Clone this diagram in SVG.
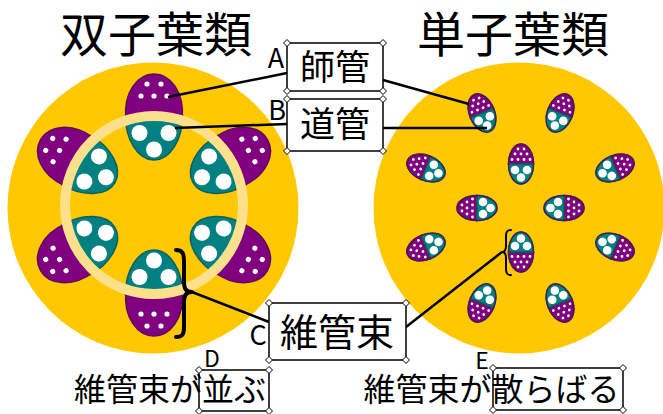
<svg xmlns="http://www.w3.org/2000/svg" xmlns:xlink="http://www.w3.org/1999/xlink" width="663" height="414" viewBox="0 0 663 414">
  <style>
    text { font-family: "Noto Sans CJK JP", "Noto Sans", sans-serif; fill: #000; }
    .title { font-size: 48px; text-anchor: middle; }
    .lbl { font-size: 35px; text-anchor: middle; }
    .cap { font-size: 32px; text-anchor: middle; }
    .key { font-size: 27px; text-anchor: middle; }
    .key.small { font-size: 23px; }
    .stem { fill: #FFC800; }
    .ring { fill: none; stroke: #FDE08C; stroke-width: 10; }
    .phloem { fill: #800080; stroke: #5E0A63; stroke-width: 1.5; }
    .xylem { fill: #008080; stroke: #0B5F5F; stroke-width: 1.5; }
    .hole { fill: #fff; }
    .box { fill: #fff; stroke: #000; stroke-width: 1.5; }
    .frame { fill: none; stroke: #000; stroke-width: 1.5; }
    .handle { fill: #fff; stroke: #000; stroke-width: 1; }
    .link { fill: none; stroke: #000; stroke-width: 2.5; }
    .brace { fill: none; stroke: #000; stroke-linecap: round; stroke-linejoin: round; }
  </style>
  <defs>
    <!-- dicot bundle, local origin at the stem centre, outward = -y -->
    <g id="dicotBundle">
      <path class="xylem" d="M -28.5,-90 C -29,-66 -16,-45 0,-45 C 16,-45 29,-66 28.5,-90 Z"/>
      <circle class="hole" cx="-14.5" cy="-72" r="8"/>
      <circle class="hole" cx="14.5" cy="-72" r="8"/>
      <circle class="hole" cx="0" cy="-55.5" r="8"/>
      <path class="phloem" d="M -28,-86 C -31,-113 -16,-131 0,-131 C 16,-131 31,-113 28,-86 Z"/>
      <circle class="hole" cx="-7" cy="-121" r="2.6"/>
      <circle class="hole" cx="7" cy="-121" r="2.6"/>
      <circle class="hole" cx="-13" cy="-109" r="2.6"/>
      <circle class="hole" cx="0" cy="-109" r="2.6"/>
      <circle class="hole" cx="13" cy="-109" r="2.6"/>
    </g>
    <!-- monocot bundle, centred on its own origin, phloem towards -y -->
    <g id="monoBundle">
      <path class="phloem" d="M -12.5,0 A 12.5,20 0 0 1 12.5,0 Z"/>
      <path class="xylem" d="M -12.5,0 A 12.5,20 0 0 0 12.5,0 Z"/>
      <ellipse cx="0" cy="0" rx="12.5" ry="20" fill="none" stroke="#4A1A55" stroke-width="1.3"/>
      <circle class="hole" cx="-3" cy="-15" r="1.4"/>
      <circle class="hole" cx="3" cy="-15" r="1.4"/>
      <circle class="hole" cx="-6" cy="-10" r="1.4"/>
      <circle class="hole" cx="0" cy="-10" r="1.4"/>
      <circle class="hole" cx="6" cy="-10" r="1.4"/>
      <circle class="hole" cx="-9" cy="-4.5" r="1.4"/>
      <circle class="hole" cx="-3" cy="-4.5" r="1.4"/>
      <circle class="hole" cx="3" cy="-4.5" r="1.4"/>
      <circle class="hole" cx="9" cy="-4.5" r="1.4"/>
      <circle class="hole" cx="-6" cy="6" r="4.3"/>
      <circle class="hole" cx="6" cy="6" r="4.3"/>
      <circle class="hole" cx="0" cy="13.5" r="4.3"/>
    </g>
    <path id="grip" class="handle" d="M 0,-3.5 L 3.5,0 L 0,3.5 L -3.5,0 Z"/>
  </defs>

  <!-- titles -->
  <text class="title" x="156" y="52">双子葉類</text>
  <text class="title" x="513" y="52">単子葉類</text>

  <!-- dicot stem: bundles arranged in a ring -->
  <g id="dicot">
    <circle class="stem" cx="153" cy="208" r="145.5"/>
    <use xlink:href="#dicotBundle" transform="translate(154,205) rotate(0)"/>
    <use xlink:href="#dicotBundle" transform="translate(154,205) rotate(60)"/>
    <use xlink:href="#dicotBundle" transform="translate(154,205) rotate(120)"/>
    <use xlink:href="#dicotBundle" transform="translate(154,205) rotate(180)"/>
    <use xlink:href="#dicotBundle" transform="translate(154,205) rotate(240)"/>
    <use xlink:href="#dicotBundle" transform="translate(154,205) rotate(300)"/>
    <circle class="ring" cx="154" cy="205" r="89"/>
    <path class="brace" stroke-width="4" d="M 176,250 C 183,250 184,254 184,262 L 184,281 C 184,289 186,292 192,292 C 186,292 184,295 184,303 L 184,326 C 184,334 183,337 176,337"/>
  </g>

  <!-- monocot stem: scattered bundles -->
  <g id="monocot">
    <circle class="stem" cx="519" cy="208" r="145.5"/>
    <use xlink:href="#monoBundle" transform="translate(482,113) rotate(-22.3)"/>
    <use xlink:href="#monoBundle" transform="translate(560,113) rotate(22.3)"/>
    <use xlink:href="#monoBundle" transform="translate(521,164) rotate(0)"/>
    <use xlink:href="#monoBundle" transform="translate(426,168) rotate(-67.2)"/>
    <use xlink:href="#monoBundle" transform="translate(615,168) rotate(67.2)"/>
    <use xlink:href="#monoBundle" transform="translate(477,208) rotate(-90)"/>
    <use xlink:href="#monoBundle" transform="translate(564,208) rotate(90)"/>
    <use xlink:href="#monoBundle" transform="translate(426,247) rotate(-112.3)"/>
    <use xlink:href="#monoBundle" transform="translate(521,252) rotate(180)"/>
    <use xlink:href="#monoBundle" transform="translate(615,247) rotate(112.3)"/>
    <use xlink:href="#monoBundle" transform="translate(482,303) rotate(-157.7)"/>
    <use xlink:href="#monoBundle" transform="translate(560,303) rotate(157.7)"/>
    <path class="brace" stroke-width="2" d="M 511,230 C 507,230 506,232 506,236 L 506,246 C 506,250 505,252 502,252 C 505,252 506,254 506,258 L 506,269 C 506,273 507,275 511,275"/>
  </g>

  <!-- leader lines -->
  <g id="connectors">
    <line class="link" x1="168" y1="97" x2="287" y2="73"/>
    <line class="link" x1="383" y1="80" x2="469" y2="104"/>
    <line class="link" x1="175" y1="128" x2="287" y2="124"/>
    <line class="link" x1="383" y1="128" x2="487" y2="128"/>
    <line class="link" x1="192" y1="292" x2="269" y2="322"/>
    <line class="link" x1="406" y1="327" x2="502" y2="252"/>
  </g>

  <!-- A: phloem -->
  <g id="labelA">
    <rect class="box" x="287" y="43" width="96" height="48"/>
    <use xlink:href="#grip" x="287" y="43"/><use xlink:href="#grip" x="383" y="43"/>
    <use xlink:href="#grip" x="287" y="91"/><use xlink:href="#grip" x="383" y="91"/>
    <text class="lbl" x="335" y="80">師管</text>
    <text class="key" x="276" y="68">A</text>
  </g>

  <!-- B: xylem -->
  <g id="labelB">
    <rect class="box" x="287" y="99" width="96" height="52"/>
    <use xlink:href="#grip" x="287" y="99"/><use xlink:href="#grip" x="383" y="99"/>
    <use xlink:href="#grip" x="287" y="151"/><use xlink:href="#grip" x="383" y="151"/>
    <text class="lbl" x="335" y="137">道管</text>
    <text class="key" x="277" y="120">B</text>
  </g>

  <!-- C: vascular bundle -->
  <g id="labelC">
    <rect class="box" x="269" y="303" width="137" height="57"/>
    <use xlink:href="#grip" x="269" y="303"/><use xlink:href="#grip" x="406" y="303"/>
    <use xlink:href="#grip" x="269" y="360"/><use xlink:href="#grip" x="406" y="360"/>
    <text class="lbl" x="337" y="346" style="font-size:38px">維管束</text>
    <text class="key" x="258" y="345">C</text>
  </g>

  <!-- D: bundles in a ring -->
  <g id="labelD">
    <text class="cap" x="170" y="401">維管束が並ぶ</text>
    <rect class="frame" x="199" y="370" width="70" height="41"/>
    <use xlink:href="#grip" x="199" y="370"/><use xlink:href="#grip" x="269" y="370"/>
    <use xlink:href="#grip" x="199" y="411"/><use xlink:href="#grip" x="269" y="411"/>
    <text class="key small" x="212" y="367">D</text>
  </g>

  <!-- E: bundles scattered -->
  <g id="labelE">
    <text class="cap" x="491.5" y="401">維管束が散らばる</text>
    <rect class="frame" x="493" y="368" width="130" height="42"/>
    <use xlink:href="#grip" x="493" y="368"/><use xlink:href="#grip" x="623" y="368"/>
    <use xlink:href="#grip" x="493" y="410"/><use xlink:href="#grip" x="623" y="410"/>
    <text class="key small" x="482" y="369">E</text>
  </g>
</svg>
